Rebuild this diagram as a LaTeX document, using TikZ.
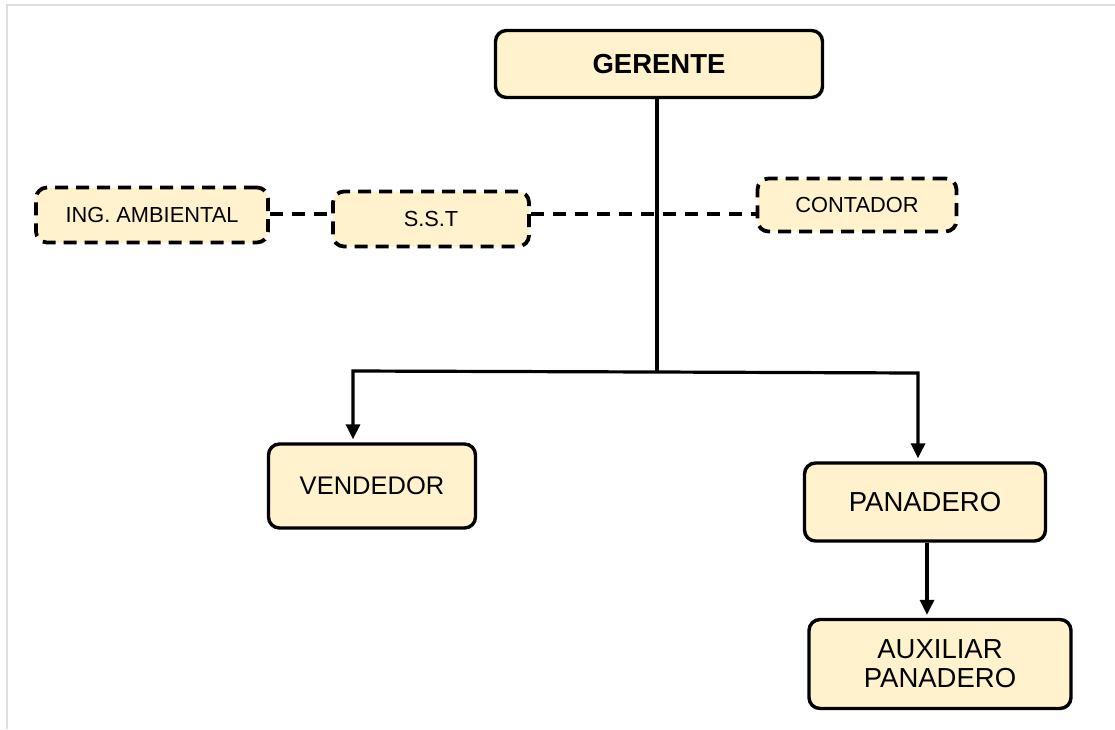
\documentclass[tikz,border=0pt]{standalone}
\usepackage{fontspec}
\setmainfont{Liberation Sans}
\usetikzlibrary{arrows.meta}
\definecolor{boxfill}{HTML}{FFF2CC}
\definecolor{framegray}{HTML}{DEDEDE}
\tikzset{
  orgbox/.style={draw=black, line width=3.4pt, fill=boxfill, rounded corners=11pt,
    align=center, inner sep=0pt, text=black},
  dashbox/.style={orgbox, dash pattern=on 13pt off 8pt, line width=3.8pt},
  conn/.style={draw=black, line width=3.2pt},
  arr/.style={conn, -{Triangle[length=15pt,width=14pt]}, shorten >=3pt},
  dashconn/.style={draw=black, line width=3.6pt, dash pattern=on 13pt off 9pt},
}
\begin{document}
\begin{tikzpicture}[x=1pt,y=-1pt]
\useasboundingbox (0,0) rectangle (1115,729);
\fill[white] (0,0) rectangle (1115,729);
\draw[framegray, line width=1.5pt] (7,729) -- (7,5) -- (1115,5);

\node[orgbox, minimum width=327pt, minimum height=67pt, font=\fontsize{27.5}{30}\selectfont\bfseries] (gerente) at (659,64) {GERENTE};
\node[dashbox, minimum width=232pt, minimum height=55pt, font=\fontsize{21.8}{24}\selectfont] (ing) at (152,215) {ING. AMBIENTAL};
\node[dashbox, minimum width=196pt, minimum height=55pt, font=\fontsize{21.8}{24}\selectfont] (sst) at (431,219) {S.S.T};
\node[dashbox, minimum width=199pt, minimum height=53pt, font=\fontsize{21.8}{24}\selectfont] (contador) at (857,205) {CONTADOR};
\node[orgbox, minimum width=207pt, minimum height=84pt, font=\fontsize{25.5}{28}\selectfont] (vendedor) at (372,486) {VENDEDOR};
\node[orgbox, minimum width=241pt, minimum height=78pt, font=\fontsize{27.5}{30}\selectfont] (panadero) at (925,502) {PANADERO};
\node[orgbox, minimum width=262pt, minimum height=89pt, font=\fontsize{27.5}{29}\selectfont] (auxiliar) at (940,664) {AUXILIAR\\PANADERO};

\coordinate (j) at (657,372);
\coordinate (jl) at (353,371);
\coordinate (jr) at (918,373);
\coordinate (pa) at (927,0);
\coordinate (dl) at (0,214);

\draw[conn] (gerente.south -| j) -- (j);
\draw[arr] (j) -- (jl) -- (jl |- vendedor.north);
\draw[arr] (j) -- (jr) -- (jr |- panadero.north);
\draw[arr] (panadero.south -| pa) -- (auxiliar.north -| pa);

\draw[dashconn] (ing.east |- dl) -- (sst.west |- dl);
\draw[dashconn] (sst.east |- dl) -- (contador.west |- dl);
\end{tikzpicture}
\end{document}
